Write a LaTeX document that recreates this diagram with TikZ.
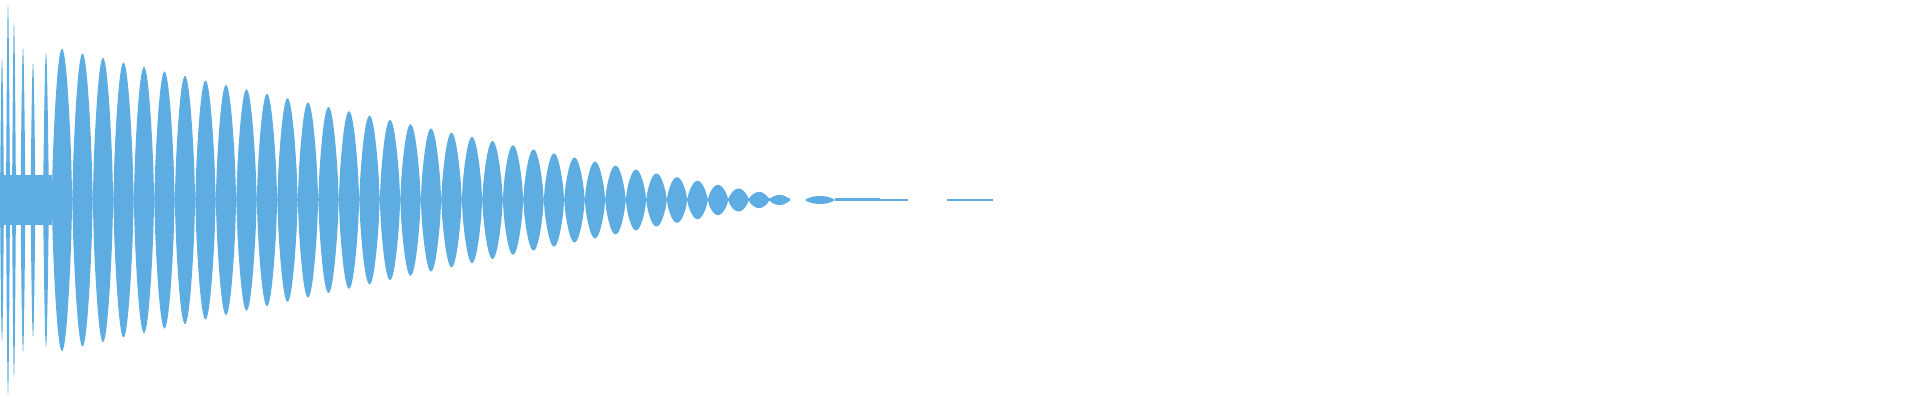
\documentclass[tikz,border=0pt]{standalone}
\usepackage{tikz}
\definecolor{wavecol}{RGB}{93,173,226}
\tikzset{wave/.style={fill=wavecol, draw=none}}
\begin{document}
\begin{tikzpicture}[x=0.01cm, y=0.01cm]
    \useasboundingbox (0,-200) rectangle (1920,200);

                % early spikes
                \foreach \c/\a/\w in {2/143/4, 8/197/4, 14/178/4, 23/153/5, 33/138/5, 46/148/6} {
                    \fill[wave] plot[domain=0:180, samples=12] ({\c-\w/2+\x/180*\w},{\a*sin(\x)})
                        -- plot[domain=180:0, samples=12] ({\c-\w/2+\x/180*\w},{-\a*sin(\x)}) -- cycle;
                }
                \fill[wave] (0,-25) rectangle (52,25);
                % main lobes
                \foreach \k in {0,...,35} {
                    \pgfmathsetmacro{\c}{62+20.5*\k}
                    \pgfmathsetmacro{\a}{max(5,165*(1-\c/810)^1.1)}
                    \fill[wave] plot[domain=0:180, samples=20] ({\c-10.25+\x/180*20.5},{\a*sin(\x)^0.7})
                        -- plot[domain=180:0, samples=20] ({\c-10.25+\x/180*20.5},{-\a*sin(\x)^0.7}) -- cycle;
                }
                % centre line and tail
                \fill[wave] (0,-1.5) rectangle (790,1.5);
                \fill[wave] plot[domain=0:180, samples=12] ({805+\x/180*30},{4*sin(\x)^0.7})
                    -- plot[domain=180:0, samples=12] ({805+\x/180*30},{-4*sin(\x)^0.7}) -- cycle;
                \fill[wave] (835,-1.5) rectangle (880,1.5);
                \fill[wave] (835,-1) rectangle (908,0.5);
                \fill[wave] (947,-1) rectangle (993,0.5);
        
\end{tikzpicture}
\end{document}
